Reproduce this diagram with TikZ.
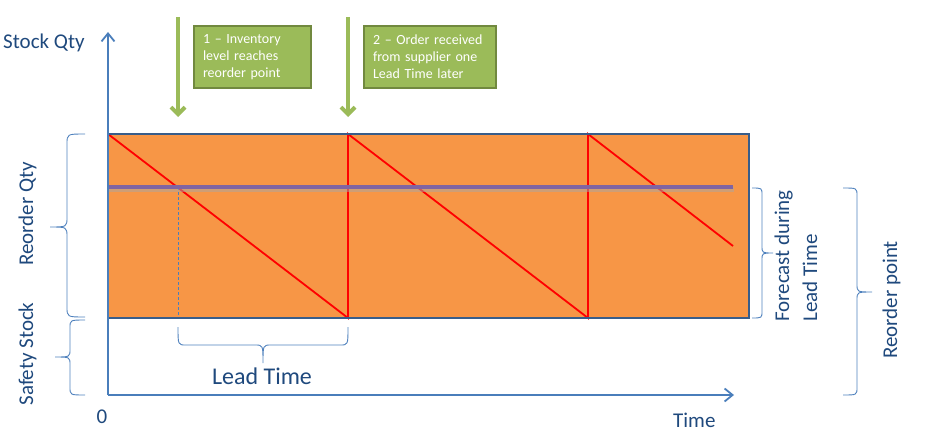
\documentclass[tikz,border=0pt]{standalone}
\usepackage{fontspec}
\setmainfont{Carlito}
\usetikzlibrary{arrows.meta}
\definecolor{axisblue}{HTML}{4A7EBB}
\definecolor{txtblue}{HTML}{1F497D}
\definecolor{bracecol}{HTML}{4F81BD}
\definecolor{orangefill}{HTML}{F79646}
\definecolor{rectborder}{HTML}{385D8A}
\definecolor{purpleline}{HTML}{8064A2}
\definecolor{greenfill}{HTML}{9BBB59}
\definecolor{greenborder}{HTML}{71893F}
\tikzset{
  lbl/.style={text=txtblue, inner sep=0pt, font=\fontsize{21}{25}\selectfont},
  axisline/.style={draw=axisblue, line width=1.8pt, -{Straight Barb[length=8pt,width=13pt]}},
  greenarrow/.style={draw=greenfill, line width=4pt, -{Straight Barb[length=7pt,width=14pt]}},
  callout/.style={fill=greenfill, draw=greenborder, line width=2pt, text=white,
    font=\fontsize{14}{17}\selectfont, align=left, inner xsep=9pt, inner ysep=0pt,
    minimum height=62pt, anchor=north west},
  bracestyle/.style={draw=bracecol, line width=0.9pt},
  sawtooth/.style={draw=red, line width=1.8pt},
}
\begin{document}
\begin{tikzpicture}[x=1pt,y=-1pt]
\useasboundingbox (0,0) rectangle (925,433);
% orange area
\fill[orangefill] (108,134) rectangle (749,318);
% red sawtooth
\draw[sawtooth] (108,134) -- (348,318) -- (348,134) -- (588,318) -- (588,134) -- (733,246);
% dashed line
\draw[axisblue, line width=0.8pt, dash pattern=on 3pt off 2pt] (178,187) -- (178,318);
% purple reorder line with shadow
\draw[black!35, line width=4.5pt, opacity=0.5] (109,189.5) -- (734,189.5);
\draw[purpleline, line width=4.5pt] (108,187) -- (733,187);
% rectangle border
\draw[rectborder, line width=2.5pt] (108,134) rectangle (749,318);
% axes
\coordinate (origin) at (108,395);
\coordinate (ytip) at (108,32);
\coordinate (xtip) at (734,395);
\draw[axisline] (origin) -- (ytip);
\draw[axisline] (origin) -- (xtip);
% green arrows
\coordinate (g1a) at (178,17);
\coordinate (g1b) at (178,117);
\coordinate (g2a) at (348,17);
\coordinate (g2b) at (348,117);
\draw[greenarrow] (g1a) -- (g1b);
\draw[greenarrow] (g2a) -- (g2b);
% callouts
\node[callout, text width=99pt, minimum width=117pt] (box1) at (193,25) {1 -- Inventory\\level reaches\\reorder point};
\node[callout, text width=114pt, minimum width=132pt] (box2) at (363,25) {2 -- Order received\\from supplier one\\Lead Time later};
% labels
\node[lbl, anchor=base west] (stockqty) at (3,49) {Stock Qty};
\node[lbl, anchor=base] (zero) at (102,423) {0};
\node[lbl, anchor=base west] (time) at (673,427) {Time};
\node[lbl, anchor=base, rotate=90] (reorderqty) at (33,214) {Reorder Qty};
\node[lbl, anchor=base, rotate=90] (safety) at (33,354) {Safety Stock};
\node[lbl, anchor=base west, rotate=90] (fc1) at (789,322) {Forecast during};
\node[lbl, anchor=base west, rotate=90] (fc2) at (817,322) {Lead Time};
\node[lbl, anchor=base, rotate=90] (rp) at (897,300) {Reorder point};
\node[lbl, font=\fontsize{24}{28}\selectfont] (leadtime) at (262,376) {Lead Time};
% braces
% Reorder Qty (left)
\draw[bracestyle] (85,134) .. controls (67,134) .. (67,144) -- (67,217)
  .. controls (67,227) .. (50,227) .. controls (67,227) .. (67,237) -- (67,307)
  .. controls (67,317) .. (85,317);
% Safety stock (left)
\draw[bracestyle] (85,320) .. controls (70,320) .. (70,328) -- (70,349)
  .. controls (70,357) .. (55,357) .. controls (70,357) .. (70,365) -- (70,387)
  .. controls (70,395) .. (85,395);
% Lead time (down)
\draw[bracestyle] (178,327) .. controls (178,345) .. (186,345) -- (255,345)
  .. controls (263,345) .. (263,363) .. controls (263,345) .. (271,345) -- (340,345)
  .. controls (348,345) .. (348,327);
% Forecast during lead time (right)
\draw[bracestyle] (752,188) .. controls (762,188) .. (762,195) -- (762,246)
  .. controls (762,253) .. (773,253) .. controls (762,253) .. (762,260) -- (762,311)
  .. controls (762,318) .. (752,318);
% Reorder point (right)
\draw[bracestyle] (843,188) .. controls (857,188) .. (857,196) -- (857,284)
  .. controls (857,292) .. (872,292) .. controls (857,292) .. (857,300) -- (857,387)
  .. controls (857,395) .. (843,395);
\end{tikzpicture}
\end{document}
